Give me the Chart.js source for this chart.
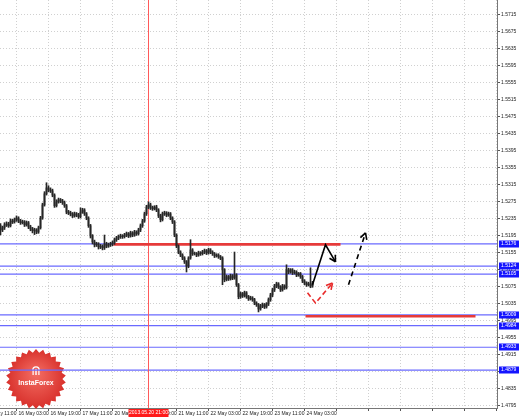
<!DOCTYPE html>
<html>
<head>
<meta charset="utf-8">
<script src="https://cdn.jsdelivr.net/npm/chart.js@4.4.0/dist/chart.umd.min.js"></script>
<style>
  html, body { margin: 0; padding: 0; background: #fff; }
  canvas { display: block; }
</style>
</head>
<body>
<canvas id="grafico" width="519" height="417"></canvas>
<script>
// H1 candles (index 0 = first visible bar)
const opens = [
  1.5219,1.5209,1.5214,1.5221,1.5223,1.5219,1.5230,1.5228,1.5233,1.5237,
  1.5230,1.5226,1.5228,1.5221,1.5226,1.5216,1.5211,1.5207,1.5209,1.5204,
  1.5214,1.5237,1.5268,1.5294,1.5308,1.5303,1.5301,1.5291,1.5266,1.5275,
  1.5280,1.5277,1.5273,1.5266,1.5251,1.5249,1.5247,1.5242,1.5247,1.5244,
  1.5240,1.5251,1.5256,1.5247,1.5237,1.5219,1.5195,1.5181,1.5174,1.5176,
  1.5169,1.5171,1.5167,1.5176,1.5171,1.5174,1.5176,1.5179,1.5186,1.5190,
  1.5193,1.5195,1.5193,1.5197,1.5200,1.5195,1.5202,1.5197,1.5204,1.5200,
  1.5209,1.5219,1.5230,1.5247,1.5263,1.5268,1.5261,1.5259,1.5263,1.5256,
  1.5242,1.5233,1.5247,1.5249,1.5244,1.5247,1.5237,1.5228,1.5197,1.5171,
  1.5157,1.5150,1.5143,1.5134,1.5124,1.5143,1.5162,1.5153,1.5153,1.5150,
  1.5155,1.5153,1.5157,1.5160,1.5155,1.5162,1.5157,1.5153,1.5148,1.5150,
  1.5146,1.5143,1.5115,1.5092,1.5099,1.5094,1.5101,1.5096,1.5103,1.5080,
  1.5052,1.5059,1.5054,1.5061,1.5052,1.5047,1.5049,1.5045,1.5037,1.5033,
  1.5023,1.5030,1.5033,1.5028,1.5035,1.5045,1.5056,1.5068,1.5077,1.5082,
  1.5075,1.5068,1.5077,1.5073,1.5115,1.5110,1.5115,1.5108,1.5110,1.5103,
  1.5106,1.5099,1.5089,1.5084,1.5080,1.5082,1.5077
];
const highs = [
  1.5224,1.5218,1.5226,1.5228,1.5227,1.5235,1.5234,1.5237,1.5242,1.5240,
  1.5234,1.5232,1.5231,1.5230,1.5229,1.5220,1.5215,1.5213,1.5212,1.5218,
  1.5241,1.5272,1.5299,1.5320,1.5313,1.5308,1.5305,1.5294,1.5280,1.5284,
  1.5283,1.5281,1.5277,1.5269,1.5255,1.5253,1.5250,1.5251,1.5250,1.5248,
  1.5261,1.5260,1.5259,1.5250,1.5240,1.5222,1.5198,1.5185,1.5180,1.5179,
  1.5175,1.5174,1.5197,1.5180,1.5178,1.5180,1.5183,1.5190,1.5194,1.5197,
  1.5199,1.5198,1.5201,1.5204,1.5203,1.5206,1.5205,1.5208,1.5207,1.5213,
  1.5223,1.5234,1.5251,1.5267,1.5275,1.5272,1.5265,1.5266,1.5267,1.5259,
  1.5246,1.5251,1.5253,1.5252,1.5251,1.5250,1.5240,1.5231,1.5200,1.5174,
  1.5160,1.5153,1.5146,1.5137,1.5146,1.5186,1.5165,1.5157,1.5156,1.5159,
  1.5158,1.5161,1.5164,1.5163,1.5166,1.5165,1.5160,1.5156,1.5153,1.5153,
  1.5149,1.5146,1.5118,1.5103,1.5102,1.5105,1.5104,1.5157,1.5106,1.5083,
  1.5063,1.5062,1.5065,1.5064,1.5055,1.5053,1.5052,1.5048,1.5040,1.5036,
  1.5034,1.5037,1.5036,1.5038,1.5049,1.5060,1.5072,1.5081,1.5086,1.5085,
  1.5078,1.5081,1.5080,1.5127,1.5119,1.5118,1.5118,1.5114,1.5113,1.5109,
  1.5109,1.5102,1.5092,1.5087,1.5086,1.5120,1.5088
];
const lows = [
  1.5197,1.5205,1.5210,1.5217,1.5215,1.5216,1.5224,1.5225,1.5229,1.5226,
  1.5222,1.5223,1.5217,1.5218,1.5212,1.5207,1.5202,1.5198,1.5200,1.5201,
  1.5211,1.5234,1.5265,1.5291,1.5299,1.5297,1.5287,1.5262,1.5263,1.5272,
  1.5273,1.5269,1.5262,1.5247,1.5245,1.5242,1.5238,1.5239,1.5240,1.5236,
  1.5237,1.5248,1.5243,1.5233,1.5215,1.5190,1.5176,1.5169,1.5170,1.5164,
  1.5165,1.5162,1.5163,1.5167,1.5168,1.5170,1.5172,1.5175,1.5182,1.5186,
  1.5189,1.5189,1.5190,1.5193,1.5191,1.5192,1.5193,1.5194,1.5196,1.5197,
  1.5205,1.5215,1.5227,1.5243,1.5259,1.5257,1.5255,1.5256,1.5252,1.5238,
  1.5228,1.5230,1.5243,1.5240,1.5241,1.5233,1.5224,1.5193,1.5167,1.5153,
  1.5146,1.5139,1.5130,1.5110,1.5120,1.5140,1.5149,1.5150,1.5146,1.5147,
  1.5149,1.5150,1.5153,1.5151,1.5152,1.5153,1.5149,1.5144,1.5145,1.5142,
  1.5139,1.5080,1.5087,1.5089,1.5090,1.5091,1.5092,1.5093,1.5076,1.5047,
  1.5048,1.5050,1.5051,1.5048,1.5043,1.5044,1.5041,1.5033,1.5029,1.5016,
  1.5020,1.5026,1.5024,1.5025,1.5031,1.5041,1.5052,1.5064,1.5073,1.5071,
  1.5064,1.5065,1.5069,1.5070,1.5106,1.5107,1.5104,1.5105,1.5099,1.5100,
  1.5095,1.5085,1.5080,1.5076,1.5077,1.5073,1.5074
];
const closes = [
  1.5209,1.5214,1.5221,1.5223,1.5219,1.5230,1.5228,1.5233,1.5237,1.5230,
  1.5226,1.5228,1.5221,1.5226,1.5216,1.5211,1.5207,1.5209,1.5204,1.5214,
  1.5237,1.5268,1.5294,1.5308,1.5303,1.5301,1.5291,1.5266,1.5275,1.5280,
  1.5277,1.5273,1.5266,1.5251,1.5249,1.5247,1.5242,1.5247,1.5244,1.5240,
  1.5251,1.5256,1.5247,1.5237,1.5219,1.5195,1.5181,1.5174,1.5176,1.5169,
  1.5171,1.5167,1.5176,1.5171,1.5174,1.5176,1.5179,1.5186,1.5190,1.5193,
  1.5195,1.5193,1.5197,1.5200,1.5195,1.5202,1.5197,1.5204,1.5200,1.5209,
  1.5219,1.5230,1.5247,1.5263,1.5268,1.5261,1.5259,1.5263,1.5256,1.5242,
  1.5233,1.5247,1.5249,1.5244,1.5247,1.5237,1.5228,1.5197,1.5171,1.5157,
  1.5150,1.5143,1.5134,1.5124,1.5143,1.5162,1.5153,1.5153,1.5150,1.5155,
  1.5153,1.5157,1.5160,1.5155,1.5162,1.5157,1.5153,1.5148,1.5150,1.5146,
  1.5143,1.5115,1.5092,1.5099,1.5094,1.5101,1.5096,1.5103,1.5080,1.5052,
  1.5059,1.5054,1.5061,1.5052,1.5047,1.5049,1.5045,1.5037,1.5033,1.5023,
  1.5030,1.5033,1.5028,1.5035,1.5045,1.5056,1.5068,1.5077,1.5082,1.5075,
  1.5068,1.5077,1.5073,1.5115,1.5110,1.5115,1.5108,1.5110,1.5103,1.5106,
  1.5099,1.5089,1.5084,1.5080,1.5082,1.5077,1.5084
];

// eixo do tempo: um label a cada 16 barras
const xTickIdx = [-8, 8, 24, 40, 56, 72, 88, 104, 120, 136, 152, 168, 184, 200, 216, 232, 248];
const xTickLabels = ['15 May 11:00', '16 May 03:00', '16 May 19:00', '17 May 11:00', '20 May 03:00',
  '20 May 19:00', '21 May 11:00', '22 May 03:00', '22 May 19:00', '23 May 11:00', '24 May 03:00',
  '', '', '', '', '', ''];
const yTickVals = [1.4795, 1.4835, 1.4875, 1.4915, 1.4955, 1.4995, 1.5035, 1.5075, 1.5115, 1.5155,
  1.5195, 1.5235, 1.5275, 1.5315, 1.5355, 1.5395, 1.5435, 1.5475, 1.5515, 1.5555, 1.5595, 1.5635,
  1.5675, 1.5715];

// niveis (linhas azuis com etiqueta no eixo)
const levels = [1.5176, 1.5124, 1.5105, 1.5009, 1.4984, 1.4933, 1.4879];
// linhas vermelhas: preco, barra inicial, barra final
const redLevels = [1.5175, 1.5006];
const redFrom = [56.5, 152.5];
const redTo = [170, 237.5];

const markerIdx = 74;
const markerLabel = '2013.05.20 21:00';

// setas de previsao
const arrowMainX = [156, 162.5, 167.5];
const arrowMainY = [1.5080, 1.5174, 1.5134];
const arrowDashX = [174, 182.5];
const arrowDashY = [1.5080, 1.5202];
const arrowRedX = [153.5, 157.5, 166];
const arrowRedY = [1.5061, 1.5037, 1.5084];

const X_MIN = -0.25, X_MAX = 248.25;
const Y_MIN = 1.4790, Y_MAX = 1.5750;

Chart.defaults.font.family = '"Liberation Sans", Arial, sans-serif';
Chart.defaults.font.size = 5;
Chart.defaults.color = '#222';

const pts = (xs, ys) => xs.map((x, i) => ({ x, y: ys[i] }));

const datasets = [];

datasets.push({
  type: 'bar', label: 'wicks', order: 2, grouped: false,
  data: lows.map((l, i) => ({ x: i, y: [l, highs[i]] })),
  backgroundColor: '#262626', borderWidth: 0, barThickness: 1
});
datasets.push({
  type: 'bar', label: 'bodies', order: 2, grouped: false,
  data: opens.map((o, i) => ({ x: i, y: [o, closes[i]] })),
  backgroundColor: '#111', borderWidth: 0, barThickness: 1
});

levels.forEach(lv => {
  datasets.push({
    type: 'line', order: 4,
    data: [{ x: X_MIN, y: lv }, { x: X_MAX, y: lv }],
    borderColor: '#6a6aff', borderWidth: 1.2, pointRadius: 0
  });
});

redLevels.forEach((lv, k) => {
  datasets.push({
    type: 'line', order: 3,
    data: [{ x: redFrom[k], y: lv }, { x: redTo[k], y: lv }],
    borderColor: '#e63a3a', borderWidth: 2.6, pointRadius: 0
  });
});

datasets.push({
  type: 'line', order: 3,
  data: [{ x: markerIdx, y: Y_MIN }, { x: markerIdx, y: Y_MAX }],
  borderColor: '#ff5a5a', borderWidth: 1, pointRadius: 0
});

datasets.push({
  type: 'line', order: 1, arrowHead: true,
  data: pts(arrowMainX, arrowMainY),
  borderColor: '#000', borderWidth: 1.6, pointRadius: 0
});
datasets.push({
  type: 'line', order: 1, arrowHead: true,
  data: pts(arrowDashX, arrowDashY),
  borderColor: '#000', borderWidth: 1.6, borderDash: [5, 4], pointRadius: 0
});
datasets.push({
  type: 'line', order: 1, arrowHead: true,
  data: pts(arrowRedX, arrowRedY),
  borderColor: '#e82a2a', borderWidth: 1.6, borderDash: [5, 3], pointRadius: 0
});

function desenharLogo(ctx, cx, cy, r) {
  ctx.save();
  ctx.beginPath();
  const n = 26;
  for (let k = 0; k < n * 2; k++) {
    const a = k * Math.PI / n - Math.PI / 2;
    const rr = k % 2 ? r * 0.88 : r;
    ctx.lineTo(cx + rr * Math.cos(a), cy + rr * Math.sin(a));
  }
  ctx.closePath();
  const g = ctx.createRadialGradient(cx, cy - 6, 2, cx, cy, r);
  g.addColorStop(0, '#f26a60');
  g.addColorStop(1, '#d8302b');
  ctx.fillStyle = g;
  ctx.fill();

  // icone
  ctx.strokeStyle = '#fff';
  ctx.fillStyle = '#fff';
  ctx.lineWidth = 1.3;
  ctx.beginPath();
  ctx.arc(cx, cy - 9, 3.2, Math.PI, 2 * Math.PI);
  ctx.stroke();
  ctx.fillRect(cx - 0.7, cy - 10, 1.4, 6);
  ctx.fillRect(cx - 3.5, cy - 9, 1.2, 5);
  ctx.fillRect(cx + 2.3, cy - 9, 1.2, 5);

  ctx.font = 'bold 7px "Liberation Sans", Arial, sans-serif';
  ctx.textAlign = 'center';
  ctx.textBaseline = 'middle';
  ctx.fillText('InstaForex', cx, cy + 4);
  ctx.restore();
}

const extras = {
  id: 'extras',
  beforeDatasetsDraw(chart) {
    const a = chart.chartArea;
    desenharLogo(chart.ctx, a.left + 36, a.bottom - 29, 30);
  },
  afterDatasetsDraw(chart) {
    const ctx = chart.ctx;
    chart.data.datasets.forEach((ds, k) => {
      if (!ds.arrowHead) return;
      const p = chart.getDatasetMeta(k).data;
      const a = p[p.length - 2], b = p[p.length - 1];
      const ang = Math.atan2(b.y - a.y, b.x - a.x);
      ctx.save();
      ctx.strokeStyle = ds.borderColor;
      ctx.lineWidth = ds.borderWidth;
      ctx.beginPath();
      [-0.5, 0.5].forEach(d => {
        ctx.moveTo(b.x, b.y);
        ctx.lineTo(b.x - 7 * Math.cos(ang + d), b.y - 7 * Math.sin(ang + d));
      });
      ctx.stroke();
      ctx.restore();
    });
  },
  afterDraw(chart) {
    const ctx = chart.ctx;
    const ys = chart.scales.y, xs = chart.scales.x;
    ctx.save();
    ctx.font = '5px "Liberation Sans", Arial, sans-serif';
    ctx.textBaseline = 'middle';
    levels.forEach(lv => {
      const y = ys.getPixelForValue(lv);
      ctx.fillStyle = '#1414ff';
      ctx.fillRect(ys.left + 2, Math.round(y) - 3.5, 20, 7);
      ctx.fillStyle = '#fff';
      ctx.textAlign = 'left';
      ctx.fillText(lv.toFixed(4), ys.left + 4, Math.round(y));
    });
    const mx = xs.getPixelForValue(markerIdx);
    ctx.fillStyle = '#ff1a1a';
    ctx.fillRect(mx - 20, xs.top + 1, 40, 8);
    ctx.fillStyle = '#fff';
    ctx.textAlign = 'center';
    ctx.fillText(markerLabel, mx, xs.top + 5);
    ctx.restore();
  }
};

new Chart(document.getElementById('grafico'), {
  type: 'bar',
  data: { datasets },
  options: {
    responsive: false,
    animation: false,
    events: [],
    layout: { padding: 0 },
    plugins: { legend: { display: false }, tooltip: { enabled: false } },
    scales: {
      x: {
        type: 'linear',
        min: X_MIN, max: X_MAX,
        offset: false,
        afterBuildTicks: s => { s.ticks = xTickIdx.map(v => ({ value: v })); },
        afterFit: s => { s.height = 9; s.paddingLeft = 0; s.paddingRight = 0; },
        ticks: {
          autoSkip: false, maxRotation: 0, align: 'start', labelOffset: 2, padding: 0,
          callback: (v, i) => xTickLabels[i]
        },
        grid: { offset: false, color: '#d0d0d0', tickLength: 3, tickColor: '#555' },
        border: { color: '#777', dash: [1, 2] }
      },
      y: {
        type: 'linear',
        position: 'right',
        min: Y_MIN, max: Y_MAX,
        beginAtZero: false,
        afterBuildTicks: s => { s.ticks = yTickVals.map(v => ({ value: v })); },
        afterFit: s => { s.width = 22; s.paddingTop = 0; s.paddingBottom = 0; },
        ticks: { autoSkip: false, padding: 1, callback: v => v.toFixed(4) },
        grid: { color: '#d0d0d0', tickLength: 3, tickColor: '#555' },
        border: { color: '#777', dash: [1, 2] }
      }
    }
  },
  plugins: [extras]
});
</script>
</body>
</html>
